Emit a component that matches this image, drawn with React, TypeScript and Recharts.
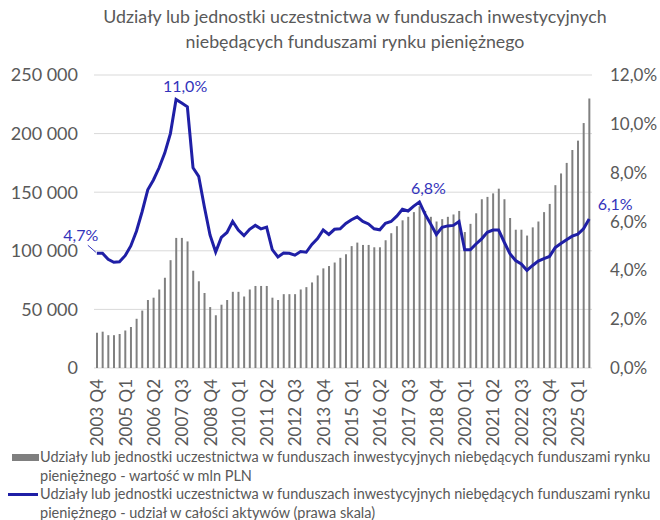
import { Bar, CartesianGrid, ComposedChart, Legend, Line, XAxis, YAxis } from "recharts";

const quarters = [
  "2003 Q4",
  "2004 Q1", "2004 Q2", "2004 Q3", "2004 Q4",
  "2005 Q1", "2005 Q2", "2005 Q3", "2005 Q4",
  "2006 Q1", "2006 Q2", "2006 Q3", "2006 Q4",
  "2007 Q1", "2007 Q2", "2007 Q3", "2007 Q4",
  "2008 Q1", "2008 Q2", "2008 Q3", "2008 Q4",
  "2009 Q1", "2009 Q2", "2009 Q3", "2009 Q4",
  "2010 Q1", "2010 Q2", "2010 Q3", "2010 Q4",
  "2011 Q1", "2011 Q2", "2011 Q3", "2011 Q4",
  "2012 Q1", "2012 Q2", "2012 Q3", "2012 Q4",
  "2013 Q1", "2013 Q2", "2013 Q3", "2013 Q4",
  "2014 Q1", "2014 Q2", "2014 Q3", "2014 Q4",
  "2015 Q1", "2015 Q2", "2015 Q3", "2015 Q4",
  "2016 Q1", "2016 Q2", "2016 Q3", "2016 Q4",
  "2017 Q1", "2017 Q2", "2017 Q3", "2017 Q4",
  "2018 Q1", "2018 Q2", "2018 Q3", "2018 Q4",
  "2019 Q1", "2019 Q2", "2019 Q3", "2019 Q4",
  "2020 Q1", "2020 Q2", "2020 Q3", "2020 Q4",
  "2021 Q1", "2021 Q2", "2021 Q3", "2021 Q4",
  "2022 Q1", "2022 Q2", "2022 Q3", "2022 Q4",
  "2023 Q1", "2023 Q2", "2023 Q3", "2023 Q4",
  "2024 Q1", "2024 Q2", "2024 Q3", "2024 Q4",
  "2025 Q1", "2025 Q2", "2025 Q3",
];

// wartość w mln PLN
const valueMln = [
  30000,
  31000, 28000, 28000, 29000,
  32000, 35000, 42000, 49000,
  58000, 60000, 67000, 77000,
  92000, 111000, 111000, 108000,
  83000, 74000, 64000, 52000,
  45000, 54000, 58000, 65000,
  65000, 61000, 67000, 70000,
  70000, 70000, 60000, 58000,
  63000, 63000, 63000, 67000,
  69000, 73000, 79000, 85000,
  87000, 90000, 94000, 97000,
  104000, 107000, 105000, 105000,
  103000, 103000, 109000, 115000,
  121000, 126000, 129000, 133000,
  138000, 134000, 129000, 125000,
  127000, 129000, 131000, 134000,
  116000, 123000, 132000, 144000,
  146000, 149000, 153000, 144000,
  128000, 118000, 118000, 113000,
  120000, 125000, 133000, 140000,
  156000, 166000, 175000, 186000,
  194000, 209000, 230000,
];

// udział w całości aktywów, %
const sharePct = [
  4.7,
  4.7, 4.45, 4.33, 4.35,
  4.6, 5.0, 5.6, 6.4,
  7.3, 7.7, 8.2, 8.8,
  9.6, 11.0, 10.85, 10.7,
  8.2, 7.85, 6.6, 5.45,
  4.75, 5.35, 5.55, 6.0,
  5.65, 5.42, 5.68, 5.84,
  5.7, 5.77, 4.85, 4.55,
  4.71, 4.7, 4.62, 4.77,
  4.74, 5.06, 5.3, 5.65,
  5.47, 5.68, 5.7, 5.92,
  6.07, 6.19, 6.0, 5.9,
  5.7, 5.66, 5.93, 6.0,
  6.22, 6.5, 6.43, 6.63,
  6.8, 6.3, 5.9, 5.47,
  5.76, 5.82, 5.84, 6.0,
  4.84, 4.84, 5.08, 5.29,
  5.56, 5.65, 5.65, 5.15,
  4.68, 4.4, 4.26, 4.0,
  4.2, 4.38, 4.48, 4.57,
  4.93, 5.1, 5.25, 5.4,
  5.48, 5.7, 6.1,
];

const leftTicks = [0, 50000, 100000, 150000, 200000, 250000];
const rightTicks = [0, 2, 4, 6, 8, 10, 12];
const labelledQuarters = ["2003 Q4", "2007 Q2", "2018 Q1", "2025 Q3"];

const barName =
  "Udziały lub jednostki uczestnictwa w funduszach inwestycyjnych niebędących funduszami rynku pieniężnego - wartość w mln PLN";
const lineName =
  "Udziały lub jednostki uczestnictwa w funduszach inwestycyjnych niebędących funduszami rynku pieniężnego - udział w całości aktywów (prawa skala)";

const data = quarters.map((q, i) => ({ q, value: valueMln[i], share: sharePct[i] }));

const GREY_TEXT = "#595959";
const BLUE = "#1f1fa6";
const FONT = "Lato, 'Open Sans', sans-serif";

const fmtThousands = (v: number) => String(v).replace(/\B(?=(\d{3})+(?!\d))/g, " ");
const fmtPct = (v: number) => v.toFixed(1).replace(".", ",") + "%";

function QuarterTick(props: any) {
  const { x, y, payload } = props;
  return (
    <g transform={`translate(${x},${y})`}>
      <text transform="rotate(-90)" textAnchor="end" dominantBaseline="central" fill={GREY_TEXT} fontSize={17} fontFamily={FONT}>
        {payload.value}
      </text>
    </g>
  );
}

function ShareLabel(props: any) {
  const { x, y, index, value } = props;
  const q = quarters[index];
  if (!labelledQuarters.includes(q)) return <g />;
  const style = { fill: "#3333bb", fontSize: 16, fontFamily: FONT };
  if (index === 0) {
    return (
      <g>
        <line x1={x - 9} y1={y - 8} x2={x - 1} y2={y - 1} stroke="#3333bb" strokeWidth={1} />
        <text x={x - 16} y={y - 19} textAnchor="middle" dominantBaseline="central" {...style}>
          {fmtPct(value)}
        </text>
      </g>
    );
  }
  const last = index === quarters.length - 1;
  return (
    <text x={x + (last ? 26 : 9)} y={y - (last ? 16 : 14)} textAnchor="middle" dominantBaseline="central" {...style}>
      {fmtPct(value)}
    </text>
  );
}

function LegendBox(props: any) {
  const items = [...(props.payload || [])].sort((a: any, b: any) => (a.type === "line" ? 1 : 0) - (b.type === "line" ? 1 : 0));
  return (
    <div style={{ width: 660, fontFamily: FONT, fontSize: 14.5, color: GREY_TEXT, lineHeight: "18.5px" }}>
      {items.map((item: any) => (
        <div key={item.value} style={{ display: "flex" }}>
          <div style={{ width: 40, flex: "none", position: "relative" }}>
            {item.type === "line" ? (
              <div style={{ position: "absolute", left: 8, top: 8, width: 30, height: 3, background: item.color }} />
            ) : (
              <div style={{ position: "absolute", left: 12, top: 6, width: 27, height: 7, background: "#7f7f7f" }} />
            )}
          </div>
          <div style={{ width: 616 }}>{item.value}</div>
        </div>
      ))}
    </div>
  );
}

export default function App() {
  return (
    <div style={{ position: "absolute", left: 0, top: 0, width: 660, height: 520, background: "#fff", fontFamily: FONT }}>
      <div
        style={{
          position: "absolute",
          left: 50,
          top: 4,
          width: 610,
          textAlign: "center",
          fontSize: 17.8,
          lineHeight: "25px",
          color: GREY_TEXT,
        }}
      >
        Udziały lub jednostki uczestnictwa w funduszach inwestycyjnych
        <br />
        niebędących funduszami rynku pieniężnego
      </div>
      <ComposedChart width={660} height={520} data={data} margin={{ top: 75, right: 0, bottom: 72, left: 0 }} style={{ fontFamily: FONT }}>
        <CartesianGrid yAxisId="left" vertical={false} stroke="#d9d9d9" />
        <XAxis dataKey="q" interval={4} height={80} tick={<QuarterTick />} tickLine={false} axisLine={false} tickMargin={5} />
        <YAxis
          yAxisId="left"
          width={94}
          domain={[0, 250000]}
          ticks={leftTicks}
          tickFormatter={fmtThousands}
          tick={{ fill: GREY_TEXT, fontSize: 18 }}
          tickLine={false}
          axisLine={false}
          tickMargin={10}
        />
        <YAxis
          yAxisId="right"
          orientation="right"
          width={68}
          domain={[0, 12]}
          ticks={rightTicks}
          tickFormatter={fmtPct}
          tick={{ fill: GREY_TEXT, fontSize: 17 }}
          tickLine={false}
          axisLine={false}
          tickMargin={12}
        />
        <Bar yAxisId="left" dataKey="value" name={barName} fill="#808080" barSize={2} isAnimationActive={false} legendType="rect" />
        <Line
          yAxisId="right"
          dataKey="share"
          name={lineName}
          stroke={BLUE}
          strokeWidth={3}
          dot={false}
          type="linear"
          label={<ShareLabel />}
          isAnimationActive={false}
          legendType="line"
        />
        <Legend
          layout="vertical"
          verticalAlign="middle"
          align="center"
          width={660}
          content={<LegendBox />}
          wrapperStyle={{ top: 448, left: 0 }}
        />
      </ComposedChart>
    </div>
  );
}
